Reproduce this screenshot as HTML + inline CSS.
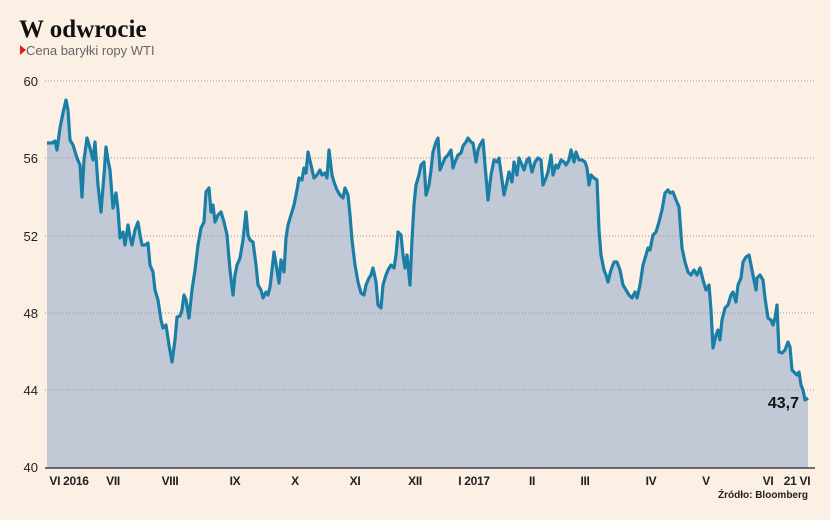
<!DOCTYPE html>
<html><head><meta charset="utf-8"><style>
html,body{margin:0;padding:0;background:#fcf0e4;}
svg{display:block;}
</style></head><body>
<svg width="830" height="520" viewBox="0 0 830 520" xmlns="http://www.w3.org/2000/svg" font-family="Liberation Sans, sans-serif">
<rect width="830" height="520" fill="#fcf0e4"/>
<text x="19" y="37" font-family="Liberation Serif, serif" font-weight="bold" font-size="25" fill="#111">W odwrocie</text>
<polygon points="20,45 26,50 20,55" fill="#e0241b"/>
<text x="26" y="55" font-size="13" fill="#666">Cena baryłki ropy WTI</text>
<polygon id="area" fill="#c1c9d7" points=""/>
<g stroke="#999" stroke-width="1" stroke-dasharray="1,2">
<line x1="45" y1="81" x2="815" y2="81"/>
<line x1="45" y1="158" x2="815" y2="158"/>
<line x1="45" y1="236" x2="815" y2="236"/>
<line x1="45" y1="313" x2="815" y2="313"/>
<line x1="45" y1="390" x2="815" y2="390"/>
</g>
<polyline id="line" fill="none" stroke="#1a7ea6" stroke-width="3.2" stroke-linejoin="round" points=""/>
<line x1="45" y1="468" x2="815" y2="468" stroke="#222" stroke-width="1.2"/>
<g font-size="13" fill="#222" text-anchor="end">
<text x="38" y="86">60</text><text x="38" y="163">56</text><text x="38" y="241">52</text>
<text x="38" y="318">48</text><text x="38" y="395">44</text><text x="38" y="472">40</text>
</g>
<g font-size="12" fill="#222" text-anchor="middle" font-weight="bold" style="letter-spacing:-0.3px">
<text x="69" y="485">VI 2016</text><text x="113" y="485">VII</text><text x="170" y="485">VIII</text>
<text x="235" y="485">IX</text><text x="295" y="485">X</text><text x="355" y="485">XI</text>
<text x="415" y="485">XII</text><text x="474" y="485">I 2017</text><text x="532" y="485">II</text>
<text x="585" y="485">III</text><text x="651" y="485">IV</text><text x="706" y="485">V</text>
<text x="768" y="485">VI</text><text x="797" y="485">21 VI</text>
</g>
<text x="808" y="498" font-size="10" font-weight="bold" fill="#222" text-anchor="end">Źródło: Bloomberg</text>
<text x="799" y="408" font-size="16" font-weight="bold" fill="#111" text-anchor="end">43,7</text>
<script>
var p="47,143 52,143 55,141 57,150 60,128 63,113 66,100 68,110 70,140 73,145 77,158 80,165 82,197 84,160 87,138 90,148 93,160 95,142 98,185 101,212 104,175 106,147 108,160 110,170 113,208 116,193 118,210 120,238 123,232 125,245 128,225 130,237 132,245 135,230 138,222 140,235 142,245 145,245 148,243 150,265 153,272 155,290 158,300 161,320 163,328 166,325 169,345 172,362 175,340 177,317 180,316 182,310 184,295 186,300 189,318 192,290 195,270 198,245 201,228 204,222 206,192 209,188 211,212 213,205 215,222 218,215 221,212 224,222 227,235 230,270 233,295 235,275 237,265 240,258 243,240 246,212 248,235 250,240 253,242 256,265 258,285 261,290 263,298 266,292 268,295 270,287 272,270 274,252 277,270 279,283 281,260 284,272 286,238 288,225 291,215 294,205 297,190 299,178 302,180 304,168 306,173 308,152 311,165 314,178 317,175 320,170 322,175 325,173 327,178 329,150 332,175 334,182 337,190 340,195 343,198 345,188 348,195 350,215 352,240 355,265 358,282 361,293 364,295 366,285 369,278 371,275 373,268 376,282 378,305 381,308 383,285 386,275 388,270 391,265 394,268 396,255 398,232 401,235 403,255 405,268 407,255 410,285 412,240 414,205 416,185 419,175 421,165 424,162 426,195 429,185 431,170 433,152 436,142 438,138 440,170 442,165 445,158 448,155 451,150 453,168 455,162 458,155 461,153 463,146 466,142 468,138 471,142 473,143 476,162 478,150 480,145 483,140 485,165 488,200 491,175 494,160 497,162 499,158 502,180 504,195 507,182 509,172 512,182 514,162 517,175 519,158 522,165 524,170 527,160 529,158 532,172 535,162 538,158 541,160 543,185 546,178 548,172 551,155 553,175 556,165 558,168 561,160 564,162 566,165 569,160 571,150 574,162 576,152 579,160 582,160 585,162 587,168 589,185 591,175 594,178 597,180 599,230 601,255 604,270 606,275 608,282 611,270 614,262 617,262 620,270 623,285 626,290 629,295 632,298 635,292 637,298 640,285 643,265 646,255 648,248 650,250 653,235 656,232 659,222 662,210 665,193 668,190 670,193 673,192 676,200 679,207 682,248 685,262 688,272 691,275 694,270 697,275 700,268 703,280 706,290 709,285 711,310 713,348 716,335 718,330 720,340 722,320 725,308 728,305 731,295 733,292 736,302 738,285 741,278 743,262 746,257 749,255 751,265 753,275 756,290 757,278 760,275 763,280 765,298 768,318 771,320 773,325 775,318 777,305 779,352 782,353 785,350 788,342 790,347 792,370 795,373 797,375 799,372 801,385 803,390 805,400 808,398";
document.getElementById("line").setAttribute("points",p);
document.getElementById("area").setAttribute("points","47,468 "+p+" 808,468");
</script>
</svg>
</body></html>
